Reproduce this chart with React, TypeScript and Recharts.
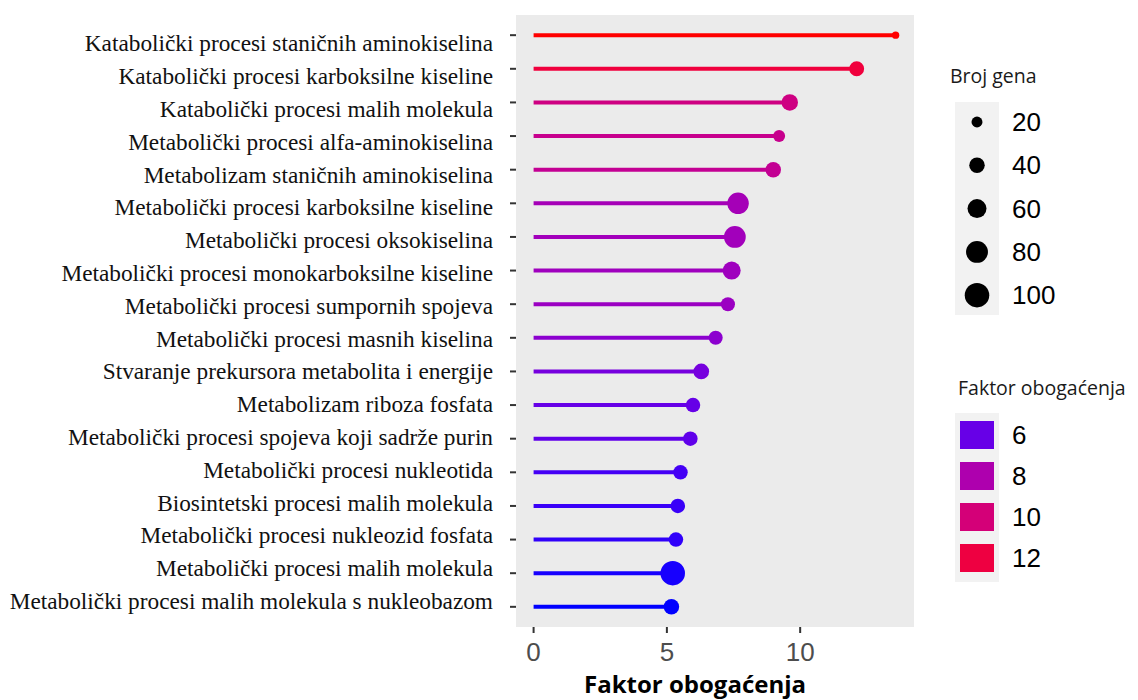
import { ComposedChart, Scatter, XAxis, YAxis, ZAxis, CartesianGrid, ReferenceLine, Cell } from 'recharts';

const labels = [
  'Katabolički procesi staničnih aminokiselina',
  'Katabolički procesi karboksilne kiseline',
  'Katabolički procesi malih molekula',
  'Metabolički procesi alfa-aminokiselina',
  'Metabolizam staničnih aminokiselina',
  'Metabolički procesi karboksilne kiseline',
  'Metabolički procesi oksokiselina',
  'Metabolički procesi monokarboksilne kiseline',
  'Metabolički procesi sumpornih spojeva',
  'Metabolički procesi masnih kiselina',
  'Stvaranje prekursora metabolita i energije',
  'Metabolizam riboza fosfata',
  'Metabolički procesi spojeva koji sadrže purin',
  'Metabolički procesi nukleotida',
  'Biosintetski procesi malih molekula',
  'Metabolički procesi nukleozid fosfata',
  'Metabolički procesi malih molekula',
  'Metabolički procesi malih molekula s nukleobazom',
];

const enrichment = [13.58, 12.12, 9.61, 9.21, 8.99, 7.67, 7.55, 7.43, 7.29, 6.83, 6.29, 5.98, 5.88, 5.51, 5.41, 5.34, 5.22, 5.17];
const geneCounts = [9, 37, 45, 24, 40, 77, 79, 54, 33, 33, 41, 35, 35, 35, 35, 35, 100, 40];

const xTicks = [0, 5, 10];
const sizeBreaks = [20, 40, 60, 80, 100];
const colorBreaks = [6, 8, 10, 12];

// blue -> red in Lab space, like ggplot's scale_colour_gradient
const toLin = (c: number) => (c <= 0.04045 ? c / 12.92 : Math.pow((c + 0.055) / 1.055, 2.4));
const fromLin = (c: number) => (c <= 0.0031308 ? 12.92 * c : 1.055 * Math.pow(c, 1 / 2.4) - 0.055);
const WX = 0.95047, WZ = 1.08883;
const f = (t: number) => (t > 0.008856 ? Math.cbrt(t) : 7.787 * t + 16 / 116);
const fi = (t: number) => (t * t * t > 0.008856 ? t * t * t : (t - 16 / 116) / 7.787);

function rgbToLab(rgb: number[]) {
  const [r, g, b] = rgb.map((v) => toLin(v / 255));
  const x = (0.4124 * r + 0.3576 * g + 0.1805 * b) / WX;
  const y = 0.2126 * r + 0.7152 * g + 0.0722 * b;
  const z = (0.0193 * r + 0.1192 * g + 0.9505 * b) / WZ;
  return [116 * f(y) - 16, 500 * (f(x) - f(y)), 200 * (f(y) - f(z))];
}

function labToHex(lab: number[]) {
  const fy = (lab[0] + 16) / 116;
  const x = fi(fy + lab[1] / 500) * WX;
  const y = fi(fy);
  const z = fi(fy - lab[2] / 200) * WZ;
  const r = 3.2406 * x - 1.5372 * y - 0.4986 * z;
  const g = -0.9689 * x + 1.8758 * y + 0.0415 * z;
  const b = 0.0557 * x - 0.204 * y + 1.057 * z;
  return '#' + [r, g, b]
    .map((v) => Math.round(Math.min(1, Math.max(0, fromLin(v))) * 255).toString(16).padStart(2, '0'))
    .join('');
}

const lowLab = rgbToLab([0, 0, 255]);
const highLab = rgbToLab([255, 0, 0]);
const minE = Math.min(...enrichment);
const maxE = Math.max(...enrichment);

const colorFor = (v: number) => {
  const t = Math.min(1, Math.max(0, (v - minE) / (maxE - minE)));
  return labToHex(lowLab.map((l, i) => l + (highLab[i] - l) * t));
};

// symbol area per gene, shared by plot and legend
const AREA_PER_GENE = 1.5 * Math.PI;
const radiusFor = (n: number) => Math.sqrt((AREA_PER_GENE * n) / Math.PI);

const data = labels.map((name, i) => ({
  name,
  pos: i + 1,
  value: enrichment[i],
  genes: geneCounts[i],
}));

// the term labels in the original drift a little against their ticks (top ones sit lower)
const CategoryTick = (props: any) => {
  const { x, y, payload } = props;
  const idx = payload.value - 1;
  const shift = 8 - (14 * idx) / (labels.length - 1);
  return (
    <text
      x={x}
      y={y + shift}
      dy="0.355em"
      textAnchor="end"
      fontFamily="Liberation Serif"
      fontSize={23.3}
      fill="#111"
    >
      {labels[idx]}
    </text>
  );
};

export default function App() {
  return (
    <div style={{ position: 'absolute', left: 0, top: 0, width: 1138, height: 700, background: '#fff' }}>
      <ComposedChart
        width={1138}
        height={700}
        margin={{ top: 15, right: 224, bottom: 0, left: 0 }}
      >
        <CartesianGrid fill="#ebebeb" horizontal={false} vertical={false} stroke="none" />
        <XAxis
          type="number"
          dataKey="value"
          domain={[-0.66, 14.27]}
          ticks={xTicks}
          allowDataOverflow
          height={73}
          axisLine={false}
          tickSize={6}
          tickMargin={10}
          tickLine={{ stroke: '#333', strokeWidth: 2 }}
          tick={{ fill: '#4d4d4d', fontSize: 26, fontFamily: 'Liberation Sans' }}
        />
        <YAxis
          type="number"
          dataKey="pos"
          domain={[0.4, 18.6]}
          ticks={data.map((d) => d.pos)}
          interval={0}
          reversed
          allowDataOverflow
          width={516}
          axisLine={false}
          tickSize={6}
          tickMargin={17}
          tickLine={{ stroke: '#333', strokeWidth: 2 }}
          tick={<CategoryTick />}
        />
        <ZAxis type="number" dataKey="genes" domain={[0, 100]} range={[0, AREA_PER_GENE * 100]} />
        {data.map((d) => (
          <ReferenceLine
            key={d.name + d.pos}
            segment={[{ x: 0, y: d.pos }, { x: d.value, y: d.pos }]}
            stroke={colorFor(d.value)}
            strokeWidth={4}
          />
        ))}
        <Scatter data={data} isAnimationActive={false}>
          {data.map((d) => (
            <Cell key={d.pos} fill={colorFor(d.value)} />
          ))}
        </Scatter>
      </ComposedChart>

      <svg
        width={1138}
        height={700}
        style={{ position: 'absolute', left: 0, top: 0, pointerEvents: 'none' }}
      >
        <text x={695} y={693} textAnchor="middle" fontFamily="Open Sans" fontWeight={700} fontSize={24} fill="#000">
          Faktor obogaćenja
        </text>

        <text x={950} y={83} fontFamily="Open Sans" fontSize={19.5} fill="#1a1a1a">Broj gena</text>
        <rect x={955} y={102} width={44} height={213} fill="#f2f2f2" />
        {sizeBreaks.map((n, i) => (
          <g key={n}>
            <circle cx={977} cy={122 + i * 43.3} r={radiusFor(n)} fill="#000" />
            <text x={1012} y={122 + i * 43.3} dominantBaseline="central" fontFamily="Liberation Sans" fontSize={26} fill="#000">
              {n}
            </text>
          </g>
        ))}

        <text x={958} y={395} fontFamily="Open Sans" fontSize={19.5} fill="#1a1a1a">Faktor obogaćenja</text>
        <rect x={955} y={413} width={44} height={169} fill="#f2f2f2" />
        {colorBreaks.map((v, i) => (
          <g key={v}>
            <rect x={960} y={435 + i * 41 - 14} width={34} height={28} fill={colorFor(v)} />
            <text x={1012} y={435 + i * 41} dominantBaseline="central" fontFamily="Liberation Sans" fontSize={26} fill="#000">
              {v}
            </text>
          </g>
        ))}
      </svg>
    </div>
  );
}
